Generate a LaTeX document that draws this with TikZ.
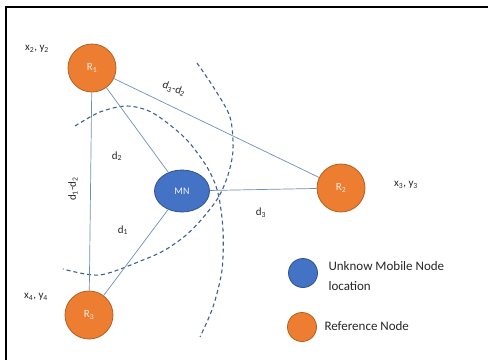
\documentclass[tikz,border=0pt]{standalone}
\usepackage{fontspec}
\setmainfont{Carlito}
\usetikzlibrary{shapes.geometric}

\definecolor{refor}{HTML}{ED7D31}
\definecolor{refedge}{HTML}{B3601F}
\definecolor{mnblue}{HTML}{4472C4}
\definecolor{mnedge}{HTML}{2F528F}
\definecolor{linkc}{HTML}{6F8FB8}
\definecolor{arcc}{HTML}{3F5F91}

\begin{document}
\begin{tikzpicture}[x=1pt,y=-1pt,
    refnode/.style={circle, fill=refor, draw=refedge, line width=0.8pt, minimum size=48pt, inner sep=0pt, text=white!88!refor, font=\fontsize{11}{13}\selectfont},
    mobnode/.style={ellipse, fill=mnblue, draw=mnedge, line width=0.8pt, minimum width=55pt, minimum height=42pt, inner sep=0pt, text=white!92!mnblue, font=\fontsize{10}{12}\selectfont},
    link/.style={draw=linkc, line width=0.7pt},
    hyper/.style={draw=arcc, line width=1.1pt, dash pattern=on 4pt off 3pt},
    lbl/.style={font=\fontsize{11}{13}\selectfont, text=black!85},
    legtext/.style={font=\fontsize{13}{20}\selectfont, text=black!85, anchor=west, align=left}]
    \useasboundingbox (0,0) rectangle (488,360);
    \draw[line width=2pt] (6,360) -- (6,7) -- (488,7);

    \draw[hyper] plot[smooth] coordinates {(75,126) (100,112) (127,106) (153,113) (185,138) (207,167) (218,193) (223,230) (222,270) (213,307) (200,337)};
    \draw[hyper] plot[smooth] coordinates {(197,63) (214,88) (230,117) (233,150) (228,175) (218,198) (201,220) (185,236) (165,250) (143,260) (100,275) (63,269)};

    \node[refnode] (R1) at (92,68) {R\textsubscript{1}};
    \node[refnode] (R2) at (341,188) {R\textsubscript{2}};
    \node[refnode] (R3) at (89,315) {R\textsubscript{3}};
    \node[mobnode] (MN) at (182,191) {MN};

    \draw[link] (R1) -- (R3);
    \draw[link] (R1) -- (MN);
    \draw[link] (R1) -- (R2);
    \draw[link] (MN) -- (R2);
    \draw[link] (MN) -- (R3);

    \node[lbl] (c2) at (37,49) {x\textsubscript{2}, y\textsubscript{2}};
    \node[lbl] (c3) at (406,185) {x\textsubscript{3}, y\textsubscript{3}};
    \node[lbl] (c4) at (36,297) {x\textsubscript{4}, y\textsubscript{4}};
    \node[lbl, rotate=-20] (d32) at (174,89) {d\textsubscript{3}-d\textsubscript{2}};
    \node[lbl, rotate=90] (d12) at (73,189) {d\textsubscript{1}-d\textsubscript{2}};
    \node[lbl] (d2) at (117,156) {d\textsubscript{2}};
    \node[lbl] (d1) at (123,230) {d\textsubscript{1}};
    \node[lbl] (d3) at (261,213) {d\textsubscript{3}};

    \node[mobnode, minimum width=29pt, minimum height=29pt] (legmn) at (303,273) {};
    \node[refnode, minimum size=29pt] (legref) at (302,327) {};
    \node[legtext] (legmntext) at (325,276) {Unknow Mobile Node\\location};
    \node[legtext] (legreftext) at (321,326) {Reference Node};
\end{tikzpicture}
\end{document}
